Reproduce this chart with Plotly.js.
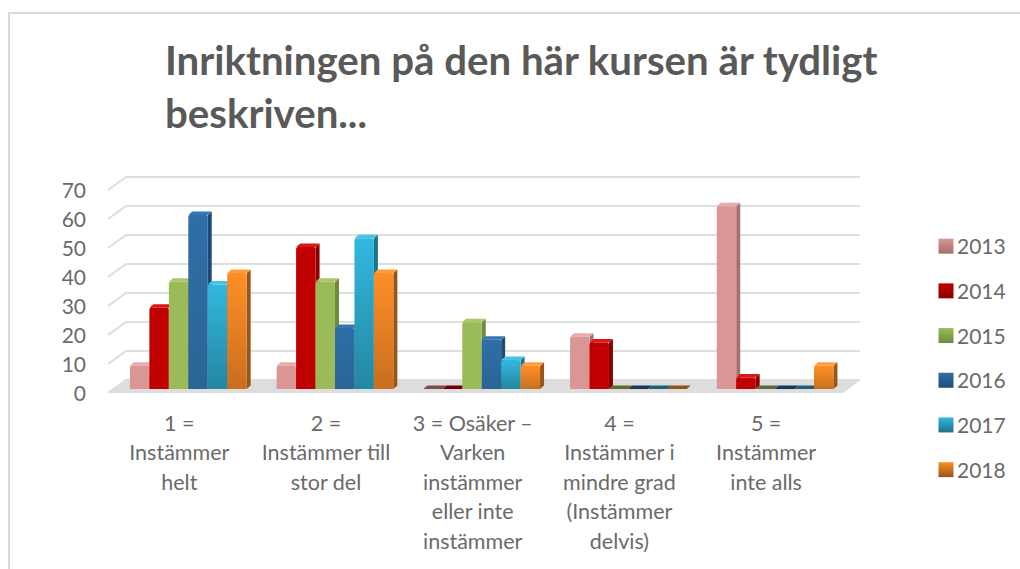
<!DOCTYPE html>
<html>
<head>
<meta charset="utf-8">
<script src="https://cdn.plot.ly/plotly-3.0.1.min.js"></script>
<style>
html,body{margin:0;padding:0;background:#fff;overflow:hidden}
#wrap{position:relative;width:1020px;height:569px}
#frame{position:absolute;left:8px;top:12px;right:0;bottom:0;border-left:2px solid #DADADA;border-top:2px solid #DADADA}
#chart{position:absolute;left:0;top:0;width:1020px;height:569px}
</style>
</head>
<body>
<div id="wrap"><div id="frame"></div><div id="chart"></div></div>
<script>
var titleLines = ['Inriktningen på den här kursen är tydligt', 'beskriven...'];
var categories = [
  ['1 =', 'Instämmer', 'helt'],
  ['2 =', 'Instämmer till', 'stor del'],
  ['3 = Osäker –', 'Varken', 'instämmer', 'eller inte', 'instämmer'],
  ['4 =', 'Instämmer i', 'mindre grad', '(Instämmer', 'delvis)'],
  ['5 =', 'Instämmer', 'inte alls']
];
var years = ['2013', '2014', '2015', '2016', '2017', '2018'];
var v2013 = [8, 8, 0, 18, 63];
var v2014 = [28, 49, 0, 16, 4];
var v2015 = [37, 37, 23, 0, 0];
var v2016 = [60, 21, 17, 0, 0];
var v2017 = [36, 52, 10, 0, 0];
var v2018 = [40, 40, 8, 0, 8];
var series = [v2013, v2014, v2015, v2016, v2017, v2018];
var yTicks = [0, 10, 20, 30, 40, 50, 60, 70];

var frontTop = ['#D99694', '#C00000', '#9BBB59', '#2F6EA6', '#33B7DF', '#FF8F26'];
var frontBot = ['#D99694', '#C00000', '#9BBB59', '#2A6596', '#23879F', '#C86E1F'];
var topFace  = ['#E3ADAB', '#D81818', '#A9C86A', '#3578B3', '#45C2E6', '#FF9D3E'];
var sideFace = ['#A56F6D', '#8A0000', '#6F8A3E', '#1F4C75', '#1D7288', '#96551A'];
var zeroFace = ['#7F4E4D', '#6E0000', '#5A6E33', '#17375E', '#1B6276', '#8F5315'];

var GREY = '#6A6A6A', FONT = 'Lato, Carlito, sans-serif';
var W = 1020, H = 569, L = 100, R = 880, T = 170, B = 400;
var x0px = 188.3, period = 146.7, y0px = 389, pxPerUnit = 2.9;
var barGap = 0.2045, depthX = 4, depthY = 3.5;
var bw = (1 - barGap) / years.length;

function lines(arr, size) {
  return arr.map(function (s) { return '<span style="font-size:' + size + 'px">' + s + '</span>'; }).join('<br>');
}

var traces = [], shapes = [];
var catX = categories.map(function (_, i) { return i; });

function skew(x, y, path, fill) {
  return {type: 'path', layer: 'below', xref: 'x', yref: 'y', xsizemode: 'pixel', ysizemode: 'pixel',
    xanchor: x, yanchor: y, path: path, fillcolor: fill, line: {width: 0}};
}

// back grid: horizontal lines on the back wall and oblique lines on the side wall
var gridSpan = (860 - 126);
yTicks.forEach(function (v) {
  shapes.push({type: 'path', layer: 'below', xref: 'x', yref: 'y', xsizemode: 'pixel', ysizemode: 'pixel',
    xanchor: (108 - x0px) / period, yanchor: v,
    path: 'M0,-4 L18,9 L' + (18 + gridSpan) + ',9',
    line: {color: '#DEDEDE', width: 2}});
});
// floor
shapes.push(skew((108 - x0px) / period, 0, 'M0,-4 L18,9 L752,9 L735,-4 Z', '#DDDDDD'));

series.forEach(function (vals, s) {
  traces.push({
    type: 'bar', name: years[s], x: catX, y: vals, showlegend: false,
    marker: {color: frontTop[s], line: {width: 0}, cornerradius: 2},
    hoverinfo: 'x+y'
  });
  traces.push({
    type: 'scatter', mode: 'markers', name: years[s], x: [null], y: [null],
    legendgroup: 'g' + s, showlegend: true,
    marker: {symbol: 'square', size: 15, color: frontTop[s], line: {width: 0},
      gradient: {type: 'vertical', color: sideFace[s]}}
  });
  vals.forEach(function (v, c) {
    var xl = c + (s - years.length / 2) * bw;
    var pw = bw * period;
    if (v > 0) {
      var h = v * pxPerUnit;
      shapes.push(skew(xl, v, 'M' + pw + ',0 L' + (pw + depthX) + ',' + depthY + ' L' + (pw + depthX) + ',' + (depthY - h) + ' L' + pw + ',' + (-h) + ' Z', sideFace[s]));
    }
    shapes.push(skew(xl, v, 'M0,0 L' + depthX + ',' + depthY + ' L' + (pw + depthX) + ',' + depthY + ' L' + pw + ',0 Z', v > 0 ? topFace[s] : zeroFace[s]));
  });
});

var layout = {
  width: W, height: H,
  margin: {l: L, r: W - R, t: T, b: H - B, pad: 0},
  paper_bgcolor: 'rgba(0,0,0,0)', plot_bgcolor: 'rgba(0,0,0,0)',
  font: {family: FONT, color: GREY},
  title: {
    text: lines(titleLines, 40.2),
    x: 165 / W, xanchor: 'left', xref: 'container',
    y: 1 - 75 / H, yanchor: 'top', yref: 'container',
    font: {family: FONT, size: 41, color: '#595959', weight: 700}
  },
  barmode: 'group', bargap: barGap, bargroupgap: 0,
  xaxis: {
    type: 'linear', range: [(L - x0px) / period, (R - x0px) / period], autorange: false,
    tickmode: 'array', tickvals: catX,
    ticktext: categories.map(function (c) { return lines(c, 21.5); }),
    tickangle: 0, ticks: '', showgrid: false, zeroline: false, showline: false,
    ticklabelshift: -9, ticklabelstandoff: 7,
    tickfont: {size: 22.7, color: GREY, family: FONT}
  },
  yaxis: {
    range: [(y0px - B) / pxPerUnit, (y0px - T) / pxPerUnit], autorange: false,
    tickmode: 'array', tickvals: yTicks, ticktext: yTicks.map(String),
    ticks: '', showgrid: false, zeroline: false, showline: false,
    ticklabelshift: 5, ticklabelstandoff: 13,
    tickfont: {size: 21, color: GREY, family: FONT}
  },
  legend: {
    x: 917 / W, xref: 'container', xanchor: 'left',
    y: 1 - 226 / H, yref: 'container', yanchor: 'top',
    font: {size: 21, color: GREY, family: FONT},
    tracegroupgap: 14.4, itemclick: false, itemdoubleclick: false,
    bgcolor: 'rgba(0,0,0,0)'
  },
  shapes: shapes
};

Plotly.newPlot('chart', traces, layout, {displayModeBar: false, staticPlot: true}).then(function (gd) {
  var svg = gd.querySelector('.main-svg');
  var ns = 'http://www.w3.org/2000/svg';
  var defs = svg.querySelector('defs');
  years.forEach(function (y, s) {
    var g = document.createElementNS(ns, 'linearGradient');
    g.setAttribute('id', 'front' + s);
    g.setAttribute('x1', '0'); g.setAttribute('y1', '0'); g.setAttribute('x2', '0'); g.setAttribute('y2', '1');
    [[0, frontTop[s]], [1, frontBot[s]]].forEach(function (p) {
      var st = document.createElementNS(ns, 'stop');
      st.setAttribute('offset', p[0]); st.setAttribute('stop-color', p[1]);
      g.appendChild(st);
    });
    defs.appendChild(g);
  });
  gd.querySelectorAll('.barlayer .trace').forEach(function (t, s) {
    t.querySelectorAll('.point path').forEach(function (p) { p.style.fill = 'url(#front' + s + ')'; });
  });
  gd.querySelectorAll('.legend .legendsymbols').forEach(function (g) {
    g.setAttribute('transform', 'translate(9,0)');
  });
});
</script>
</body>
</html>
